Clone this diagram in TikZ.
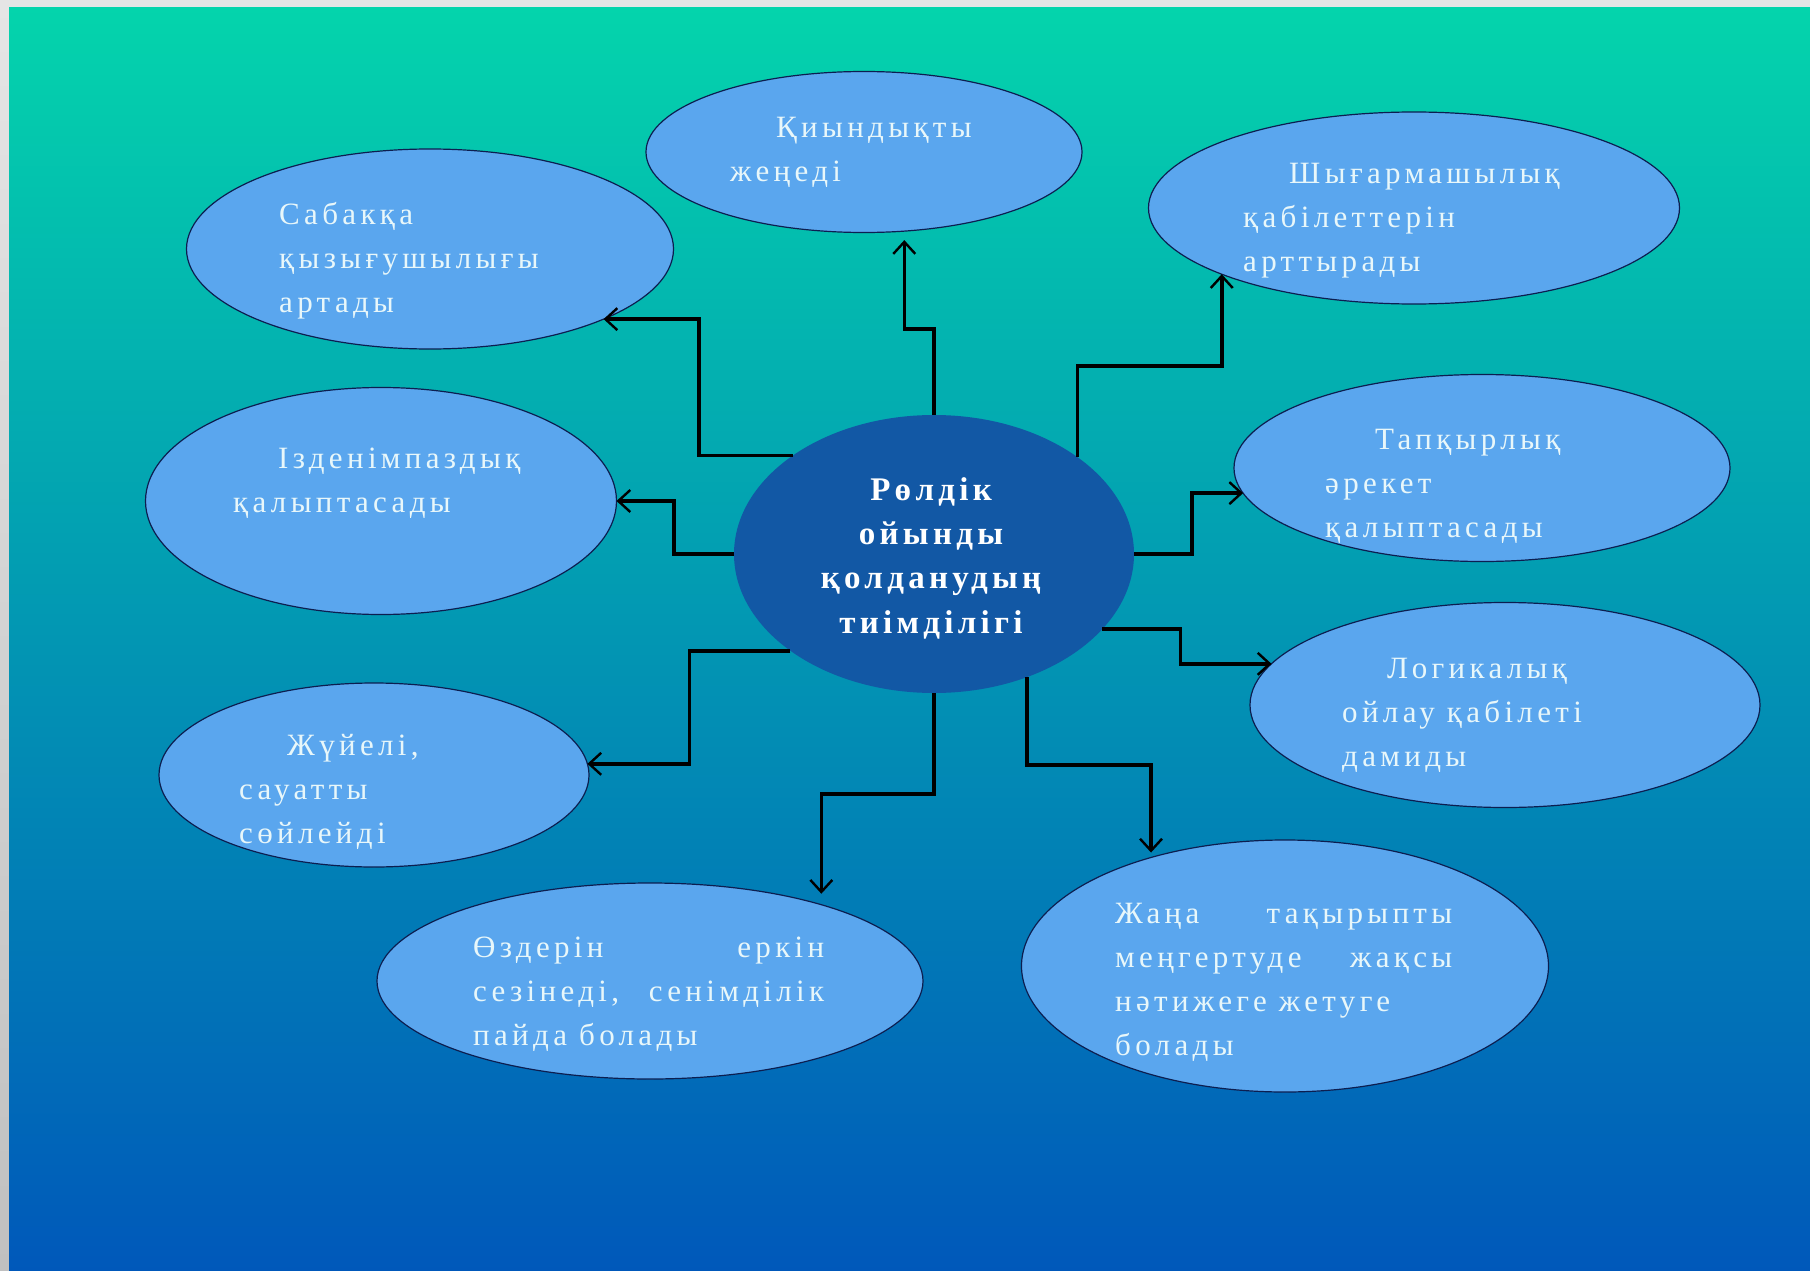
\documentclass[tikz,border=0pt]{standalone}
\usepackage{fontspec}
\setmainfont{Liberation Serif}
\newfontfamily\lsfont[LetterSpace=14]{Liberation Serif}
\newfontfamily\lsbfont[LetterSpace=13]{Liberation Serif}
\usetikzlibrary{shapes.geometric,arrows.meta}
\definecolor{bgtop}{RGB}{4,212,172}
\definecolor{bgbot}{RGB}{0,88,186}
\definecolor{grayT}{RGB}{229,229,229}
\definecolor{grayB}{RGB}{192,192,192}
\definecolor{bubc}{RGB}{90,166,238}
\definecolor{edgec}{RGB}{12,30,80}
\definecolor{txtc}{RGB}{232,247,250}
\definecolor{cenc}{RGB}{18,88,165}
\begin{document}
\begin{tikzpicture}[x=1pt,y=-1pt,
  bubble/.style={ellipse, draw=edgec, line width=1.2pt, fill=bubc, inner sep=0pt, outer sep=0pt},
  btext/.style={anchor=base west, align=left, inner sep=0pt, text=txtc, font=\lsfont\fontsize{31}{44}\selectfont},
  conn/.style={line width=3.6pt, draw=black, -{Straight Barb[length=12pt,width=22pt,line width=2.4pt]}}
]
\useasboundingbox (0,0) rectangle (1810,1271);
% background
\shade[top color=grayT, bottom color=grayB] (0,0) rectangle (9,1271);
\fill[grayT] (0,0) rectangle (1810,8);
\shade[top color=bgtop, bottom color=bgbot] (9,8) rectangle (1810,1271);

% center
\node[ellipse, fill=cenc, inner sep=0pt, outer sep=0pt, minimum width=400pt, minimum height=278pt] (c) at (934,554) {};
\node[anchor=base, align=center, inner sep=0pt, text=white, font=\lsbfont\bfseries\fontsize{33}{44.3}\selectfont] (ct) at (931,633) {Рөлдік\\ойынды\\қолданудың\\тиімділігі};

% bubbles
\node[bubble, minimum width=436pt, minimum height=161pt] (e1) at (864,152) {};
\node[bubble, minimum width=487pt, minimum height=200pt] (e2) at (430,249) {};
\node[bubble, minimum width=531pt, minimum height=192pt] (e3) at (1414,208) {};
\node[bubble, minimum width=471pt, minimum height=227pt] (e4) at (381,501) {};
\node[bubble, minimum width=496pt, minimum height=187pt] (e5) at (1482,468) {};
\node[bubble, minimum width=510pt, minimum height=205pt] (e7) at (1505,705) {};
\node[bubble, minimum width=430pt, minimum height=184pt] (e8) at (374,775) {};
\node[bubble, minimum width=546pt, minimum height=196pt] (e9) at (650,981) {};
\node[bubble, minimum width=527pt, minimum height=252pt] (e10) at (1285,966) {};

% texts (anchored at the baseline of the last line)
\node[btext] (t1) at (730,182) {\hspace*{46pt}Қиындықты\\жеңеді};
\node[btext] (t2) at (279,312) {Сабакқа\\қызығушылығы\\артады};
\node[btext] (t3) at (1243,271) {\hspace*{46pt}Шығармашылық\\қабілеттерін\\арттырады};
\node[btext] (t4) at (233,512) {\hspace*{45pt}Ізденімпаздық\\қалыптасады};
\node[btext] (t5) at (1325,537) {\hspace*{50pt}Тапқырлық\\әрекет\\қалыптасады};
\node[btext] (t7) at (1342,766) {\hspace*{45pt}Логикалық\\ойлау қабілеті\\дамиды};
\node[btext] (t8) at (239,843) {\hspace*{48pt}Жүйелі,\\сауатты\\сөйлейді};
\node[btext] (t9) at (473,1045) {\hbox to 351pt{Өздерін\hfill еркін}\\\hbox to 351pt{сезінеді,\hfill сенімділік}\\пайда болады};
\node[btext] (t10) at (1115,1055) {\hbox to 337pt{Жаңа\hfill тақырыпты}\\\hbox to 337pt{меңгертуде\hfill жақсы}\\нәтижеге жетуге\\болады};

% connectors
\draw[conn] (c.145.6) -- ++(-94,0) |- (e2.338.5);
\draw[conn, shorten >=9pt] (c.north) -- ++(0,-86) -| (e1.297.4);
\draw[conn] (c.34.8) -- ++(0,-91) -| (e3.199.05);
\draw[conn] (c.west) -- ++(-60,0) |- (e4.east);
\draw[conn] (c.east) -- ++(58,0) |- (e5.186.23);
\draw[conn] (c.336.6) -- ++(78,0) |- (e7.170.88);
\draw[conn] (c.214.7) -- ++(-101,0) |- (e8.3.77);
\draw[conn, shorten >=11pt] (c.south) -- ++(0,101) -| (e9.24.9);
\draw[conn, shorten >=5pt] (c.307.5) -- ++(0,88) -| (e10.141.85);
\end{tikzpicture}
\end{document}
